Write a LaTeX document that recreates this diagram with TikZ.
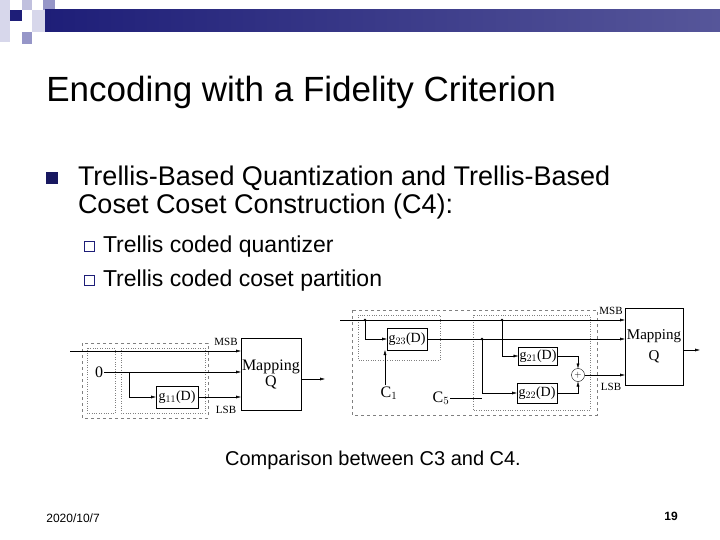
\documentclass[tikz,border=0pt]{standalone}
\usepackage{fontspec}
\setmainfont{Liberation Sans}
\newfontfamily\serif{Liberation Serif}
\usetikzlibrary{arrows.meta,positioning}
\definecolor{navy}{RGB}{30,30,120}
\definecolor{lav}{RGB}{150,150,200}
\definecolor{pale}{RGB}{215,215,235}
\begin{document}
\begin{tikzpicture}[x=1pt,y=-1pt,every node/.style={outer sep=0pt},
 blk/.style={draw,thin,inner sep=1pt,font=\serif\fontsize{14}{14}\selectfont},
 lbl/.style={font=\serif\fontsize{11}{11}\selectfont,inner sep=1pt},
 sig/.style={-{Latex[length=5pt,width=3pt]},thin},
 outer/.style={draw,dashed,gray,thin},
 inner/.style={draw,dotted,gray,thin},
 dot/.style={circle,fill,inner sep=1pt}]
  \useasboundingbox (0,0) rectangle (720,540);
  % header
  \fill[pale] (0,0) rectangle (10,42);
  \fill[lav!60] (22,0) rectangle (32,10);
  \fill[lav] (43,0) rectangle (55,10);
  \fill[pale] (32,10) rectangle (55,32);
  \fill[lav] (22,32) rectangle (32,44);
  \fill[navy] (10,10) rectangle (22,21);
  \shade[left color=navy,right color=navy!75] (45,10) rectangle (720,32);
  % text
  \node[anchor=west,font=\fontsize{35}{35}\selectfont] (title) at (43,92) {Encoding with a Fidelity Criterion};
  \fill[navy!80!black] (46,172) rectangle (58,184);
  \node[anchor=north west,align=left,font=\fontsize{27}{28}\selectfont,inner sep=0pt] (item) at (78,166)
   {Trellis-Based Quantization and Trellis-Based\\Coset Coset Construction (C4):};
  \foreach \Y/\T in {247/Trellis coded quantizer,281/Trellis coded coset partition}
  {\draw[navy,thin] (84,\Y-6) rectangle ++(10,10);
   \node[anchor=west,font=\fontsize{23}{23}\selectfont,inner sep=0pt] at (103,\Y) {\T};}
  \node[font=\fontsize{20}{20}\selectfont] (cap) at (373,460) {Comparison between C3 and C4.};
  \node[anchor=west,font=\fontsize{12}{12}\selectfont] (date) at (43,518) {2020/10/7};
  \node[font=\bfseries\fontsize{12}{12}\selectfont] (page) at (671,516) {19};
  % left diagram
  \draw[outer] (82,343) rectangle (208,418);
  \draw[inner] (87,348) rectangle (115,413);
  \draw[inner] (121,348) rectangle (205,413);
  \node[blk,minimum width=59pt,minimum height=72pt,anchor=north west,align=center,font=\serif\fontsize{16}{16}\selectfont] (mapL) at (241,338) {Mapping\\Q};
  \node[blk,minimum width=42pt,minimum height=22pt] (g11) at (177,397) {g$_{11}$(D)};
  \node[lbl,font=\serif\fontsize{16}{16}\selectfont] (zero) at (99,372) {0};
  \node[lbl] at (226,342) {MSB};
  \node[lbl] at (226,410) {LSB};
  \coordinate (inL) at (70,351);
  \coordinate (outL) at (325,379);
  \draw[sig] (inL) -- (inL-|mapL.west);
  \draw[sig] (zero) -- (zero-|mapL.west);
  \draw[sig] (zero-|129,0) |- (g11);
  \draw[sig] (g11) -- (g11-|mapL.west);
  \draw[sig] (mapL.east|-outL) -- (outL);
  % right diagram
  \draw[outer] (352,310) rectangle (597,415);
  \draw[inner] (358,315) rectangle (440,360);
  \draw[inner] (473,315) rectangle (590,410);
  \node[blk,minimum width=58pt,minimum height=77pt,anchor=north west,align=center,font=\serif\fontsize{15}{15}\selectfont] (mapR) at (625,308) {Mapping\\[6pt]Q};
  \node[blk,minimum width=40pt,minimum height=22pt] (g23) at (407,339) {g$_{23}$(D)};
  \node[blk,minimum width=39pt,minimum height=18pt] (g21) at (538,356) {g$_{21}$(D)};
  \node[blk,minimum width=40pt,minimum height=20pt] (g22) at (537,393) {g$_{22}$(D)};
  \node[draw,circle,inner sep=0pt,minimum size=13pt,font=\small] (sum) at (578,375) {$+$};
  \node[lbl] at (611,311) {MSB};
  \node[lbl] at (611,387) {LSB};
  \node[lbl,font=\serif\fontsize{16}{16}\selectfont] (c1) at (389,393) {C$_1$};
  \node[lbl,font=\serif\fontsize{16}{16}\selectfont] (c5) at (441,398) {C$_5$};
  \coordinate (inR) at (340,320);
  \coordinate (outR) at (700,350);
  \node[dot] (d1) at (365,320) {};
  \node[dot] (d2) at (502,320) {};
  \node[dot] (d3) at (482,339) {};
  \draw[sig] (inR) -- (inR-|mapR.west);
  \draw[sig] (d1) |- (g23);
  \draw[sig] (g23) -- (g23-|mapR.west);
  \draw[sig] (d2) |- (g21);
  \draw[sig] (d3) |- (g22);
  \draw[sig] (g21) -| (sum);
  \draw[sig] (g22) -| (sum);
  \draw[sig] (sum) -- (sum-|mapR.west);
  \draw[sig] (c1.north-|385,0) -- (g23.south-|385,0);
  \draw[thin] (c5.east) -- (c5-|d3);
  \draw[sig] (mapR.east|-outR) -- (outR);
\end{tikzpicture}
\end{document}
